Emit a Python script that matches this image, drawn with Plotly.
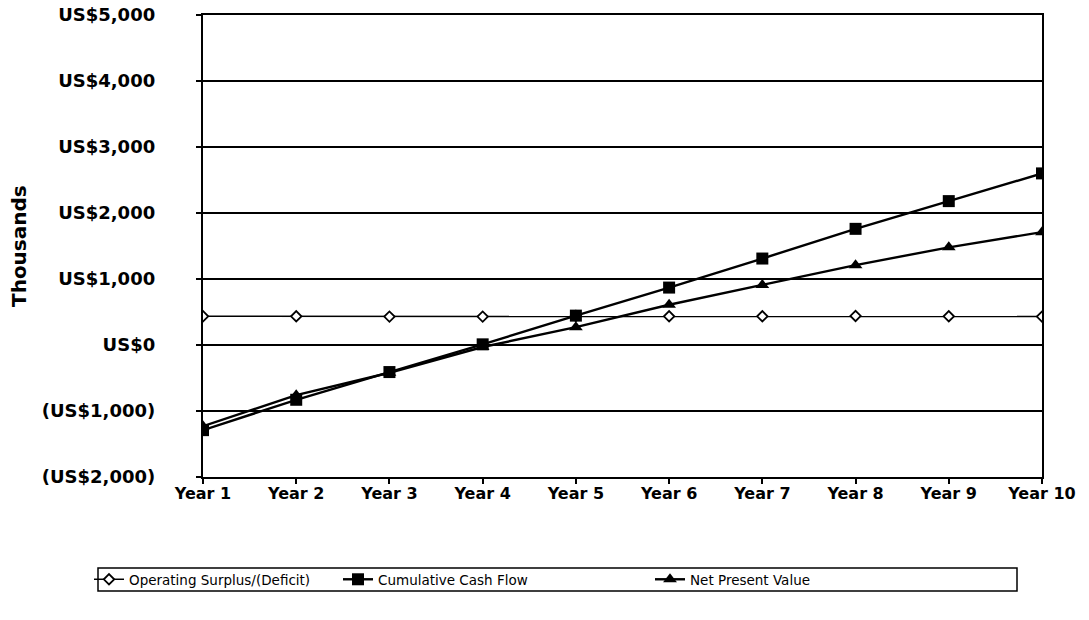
import plotly.graph_objects as go

# data (US$ thousands)
years = ["Year 1", "Year 2", "Year 3", "Year 4", "Year 5",
         "Year 6", "Year 7", "Year 8", "Year 9", "Year 10"]
operating_surplus = [435, 435, 430, 430, 440, 435, 435, 440, 435, 430]
cumulative_cash = [-1290, -830, -410, 10, 445, 870, 1310, 1760, 2180, 2600]
net_present_value = [-1230, -760, -420, -30, 270, 610, 910, 1210, 1480, 1710]

y_ticks = [-2000, -1000, 0, 1000, 2000, 3000, 4000, 5000]
y_labels = ["(US$2,000)", "(US$1,000)", "US$0", "US$1,000",
            "US$2,000", "US$3,000", "US$4,000", "US$5,000"]

FONT = "DejaVu Sans"

# plot area sits at 203..1042 x 15..477 on the page
W, H = 1089, 620
L, T = 203, 15
PW, PH = 839, 462


def px_x(p):
    # screen x -> paper x
    return (p - L) / PW


def px_y(p):
    # screen y -> paper y
    return (T + PH - p) / PH


fig = go.Figure()

fig.add_trace(go.Scatter(
    x=years, y=operating_surplus, name="Operating Surplus/(Deficit)",
    mode="lines+markers", legend="legend",
    line=dict(color="black", width=1.5),
    marker=dict(symbol="diamond", size=8, color="white",
                line=dict(color="black", width=1.8)),
))
fig.add_trace(go.Scatter(
    x=years, y=cumulative_cash, name="Cumulative Cash Flow",
    mode="lines+markers", legend="legend2",
    line=dict(color="black", width=2.4),
    marker=dict(symbol="square", size=12, color="black"),
))
fig.add_trace(go.Scatter(
    x=years, y=net_present_value, name="Net Present Value",
    mode="lines+markers", legend="legend3",
    line=dict(color="black", width=2.4),
    marker=dict(symbol="triangle-up", size=12, color="black"),
))

leg_common = dict(
    orientation="h", xanchor="left", yanchor="middle", y=px_y(579.5),
    bgcolor="rgba(0,0,0,0)", borderwidth=0, itemwidth=30,
    font=dict(family=FONT, size=13.5, color="black"),
)

fig.update_layout(
    width=W, height=H,
    margin=dict(l=L, r=W - L - PW, t=T, b=H - T - PH),
    paper_bgcolor="white", plot_bgcolor="white",
    font=dict(family=FONT, color="black"),
    showlegend=True,
    legend=dict(x=px_x(89), **leg_common),
    legend2=dict(x=px_x(338), **leg_common),
    legend3=dict(x=px_x(650), **leg_common),
    shapes=[dict(
        type="rect", xref="paper", yref="paper",
        x0=px_x(98), x1=px_x(1017), y0=px_y(568), y1=px_y(591),
        line=dict(color="black", width=1.5), layer="below",
    )],
    annotations=[dict(
        text="Thousands", textangle=-90, showarrow=False,
        xref="paper", yref="paper", x=px_x(19), y=0.5,
        xanchor="center", yanchor="middle",
        font=dict(family=FONT, size=20, weight="bold"),
    )],
)

fig.update_xaxes(
    range=[0, 9], showgrid=False, automargin=False,
    showline=True, linecolor="black", linewidth=2.4, mirror=True,
    ticks="outside", ticklen=5, tickcolor="black", tickwidth=1.5,
    tickfont=dict(family=FONT, size=16, weight="bold"),
    ticklabelstandoff=-4,
    zeroline=False,
)
fig.update_yaxes(
    range=[-2000, 5000], tickvals=y_ticks, ticktext=y_labels,
    showgrid=True, gridcolor="black", gridwidth=2.4, automargin=False,
    showline=True, linecolor="black", linewidth=2.4, mirror=True,
    ticks="outside", ticklen=5, tickcolor="black", tickwidth=1.5,
    tickfont=dict(family=FONT, size=18, weight="bold"),
    ticklabelstandoff=37, ticklabeloverflow="allow",
    zeroline=False,
)

# drop the browser's default body margin so the figure fills the window
fig.write_html("out.html", config={"displayModeBar": False},
               post_script="document.body.style.margin='0';")
